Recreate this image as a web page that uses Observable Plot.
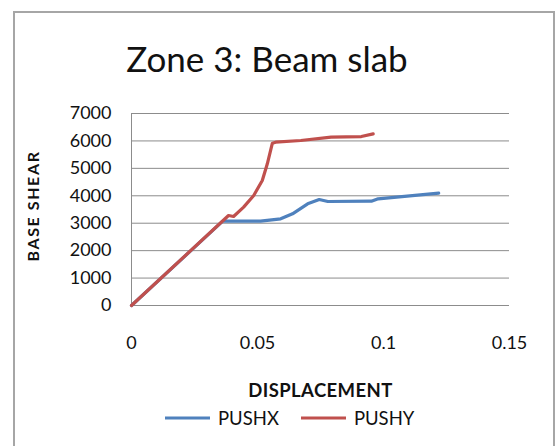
<!DOCTYPE html>
<html>
<head>
<meta charset="utf-8">
<script src="https://cdn.jsdelivr.net/npm/d3@7"></script>
<script src="https://cdn.jsdelivr.net/npm/@observablehq/plot@0.6"></script>
<style>
  html, body { margin: 0; padding: 0; background: #fff; }
  #wrap { position: relative; width: 556px; height: 446px; overflow: hidden; font-family: Lato, "Open Sans", sans-serif; }
  #frame { position: absolute; left: 13px; top: 11px; width: 542px; height: 460px; border-top: 2px solid #a6a6a6; border-left: 2px solid #a6a6a6; border-right: 2px solid #a6a6a6; box-sizing: border-box; }
  #title { position: absolute; left: 0; width: 534px; top: 38px; text-align: center; font-size: 35px; color: #111; line-height: 40px; }
  #chart { position: absolute; left: 0; top: 90px; }
  #ytitle { position: absolute; left: 33px; top: 206px; width: 0; height: 0; }
  #ytitle span { position: absolute; left: 0; top: 0; transform: translate(-50%, -50%) rotate(-90deg); white-space: nowrap; font-weight: bold; font-size: 16px; letter-spacing: 1.6px; color: #111; line-height: 18px; }
  #legend { position: absolute; left: 165px; top: 407px; display: flex; align-items: center; font-size: 18.5px; color: #111; }
  #legend .item { display: flex; align-items: center; margin-right: 22px; }
  #legend svg { margin-right: 8px; }
</style>
</head>
<body>
<div id="wrap">
  <div id="frame"></div>
  <div id="title">Zone 3: Beam slab</div>
  <div id="chart"></div>
  <div id="ytitle"><span></span></div>
  <div id="legend"></div>
</div>
<script>
const seriesNames = ["PUSHX", "PUSHY"];
const seriesColors = ["#4F81BD", "#C0504D"];

const pushxDisp = [0, 0.0362, 0.0512, 0.0592, 0.0639, 0.0699, 0.0745, 0.0779, 0.0952, 0.0979, 0.1219];
const pushxShear = [0, 3074, 3074, 3160, 3342, 3707, 3864, 3791, 3803, 3890, 4094];

const pushyDisp = [0, 0.0385, 0.0405, 0.0445, 0.0485, 0.0519, 0.0539, 0.0559, 0.0572, 0.0672, 0.0792, 0.0912, 0.0959];
const pushyShear = [0, 3281, 3245, 3585, 4010, 4557, 5165, 5918, 5954, 6015, 6136, 6160, 6258];

const xTicks = [0, 0.05, 0.1, 0.15];
const xTickLabels = ["0", "0.05", "0.1", "0.15"];
const yTicks = [0, 1000, 2000, 3000, 4000, 5000, 6000, 7000];
const yTickLabels = ["0", "1000", "2000", "3000", "4000", "5000", "6000", "7000"];
const xTitle = "DISPLACEMENT";
const yTitle = "BASE SHEAR";

const data = [
  ...pushxDisp.map((d, i) => ({series: seriesNames[0], x: d, y: pushxShear[i]})),
  ...pushyDisp.map((d, i) => ({series: seriesNames[1], x: d, y: pushyShear[i]}))
];

const chart = Plot.plot({
  width: 556,
  height: 320,
  marginLeft: 131,
  marginRight: 47,
  marginTop: 23,
  marginBottom: 105,
  style: {fontFamily: "Lato, 'Open Sans', sans-serif", fontSize: "18px", color: "#111", background: "transparent"},
  x: {domain: [0, 0.15], ticks: xTicks, tickFormat: (d, i) => xTickLabels[i], tickSize: 0, tickPadding: 31, label: null},
  y: {domain: [0, 7000], ticks: yTicks, tickFormat: (d, i) => yTickLabels[i], tickSize: 0, tickPadding: 20, label: null},
  color: {domain: seriesNames, range: seriesColors},
  marks: [
    Plot.ruleY(yTicks, {stroke: "#8c8c8c", strokeWidth: 1}),
    Plot.ruleX([0], {stroke: "#8c8c8c", strokeWidth: 1}),
    Plot.lineY(data.filter(d => d.series === seriesNames[0]), {x: "x", y: "y", stroke: "series", strokeWidth: 3.2, strokeLinejoin: "round"}),
    Plot.lineY(data.filter(d => d.series === seriesNames[1]), {x: "x", y: "y", stroke: "series", strokeWidth: 3.2, strokeLinejoin: "round"}),
    Plot.text([xTitle], {frameAnchor: "bottom", dy: 86, text: d => d, fontWeight: "bold", fontSize: 18.5, lineAnchor: "middle", fill: "#111"})
  ]
});
document.getElementById("chart").appendChild(chart);
d3.select(chart).selectAll("text").filter(function() { return this.textContent === xTitle; }).style("letter-spacing", "0.4px");
document.querySelector("#ytitle span").textContent = yTitle;

const legend = document.getElementById("legend");
seriesNames.forEach((name, i) => {
  const item = document.createElement("div");
  item.className = "item";
  item.innerHTML = `<svg width="45" height="10"><line x1="0" y1="5" x2="45" y2="5" stroke="${seriesColors[i]}" stroke-width="3.2"/></svg><span>${name}</span>`;
  legend.appendChild(item);
});
</script>
</body>
</html>
